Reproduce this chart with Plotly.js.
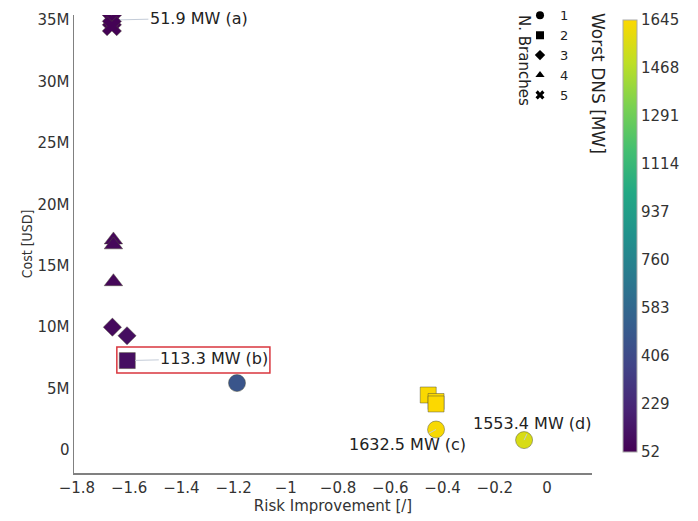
<!DOCTYPE html>
<html>
<head>
<meta charset="utf-8">
<script src="https://cdn.plot.ly/plotly-3.0.1.min.js"></script>
<style>html,body{margin:0;padding:0;background:#fff;}#chart{width:698px;height:521px;}</style>
</head>
<body>
<div id="chart"></div>
<script>
// N. Branches = 1
const risk1 = [-1.187, -0.425, -0.088];
const cost1 = [5.45e6, 1.67e6, 0.81e6];
const dns1  = [470, 1632.5, 1553.4];
// N. Branches = 2
const risk2 = [-1.607, -0.455, -0.425, -0.425];
const cost2 = [7.28e6, 4.48e6, 3.95e6, 3.75e6];
const dns2  = [113.3, 1640, 1645, 1645];
// N. Branches = 3
const risk3 = [-1.664, -1.608];
const cost3 = [10.0e6, 9.3e6];
const dns3  = [90, 110];
// N. Branches = 4
const risk4 = [-1.66, -1.66, -1.66];
const cost4 = [17.1e6, 16.7e6, 13.7e6];
const dns4  = [75, 80, 78];
// N. Branches = 5
const risk5 = [-1.666, -1.666];
const cost5 = [35.0e6, 34.5e6];
const dns5  = [51.9, 55];

const branchLabels = ['1', '2', '3', '4', '5'];
const symbols = ['circle', 'square', 'diamond', 'triangle-up', 'x'];
const cbTicks = [52, 229, 406, 583, 760, 937, 1114, 1291, 1468, 1645];

const labelA = '51.9 MW (a)';
const labelB = '113.3 MW (b)';
const labelC = '1632.5 MW (c)';
const labelD = '1553.4 MW (d)';

const groups = [
  {x: risk1, y: cost1, c: dns1, size: 17},
  {x: risk2, y: cost2, c: dns2, size: 16},
  {x: risk3, y: cost3, c: dns3, size: 14},
  {x: risk4, y: cost4, c: dns4, size: 16},
  {x: risk5, y: cost5, c: dns5, size: 17}
];

const viridisGold = [
  [0.0, '#440154'], [0.1, '#482475'], [0.2, '#414487'], [0.3, '#355f8d'],
  [0.4, '#2a788e'], [0.5, '#21918c'], [0.6, '#22a884'], [0.7, '#44bf70'],
  [0.8, '#7ad151'], [0.9, '#bddf26'], [1.0, '#fcd800']
];

const font = 'DejaVu Sans, Verdana, sans-serif';
const traces = [];
groups.forEach((g, i) => {
  traces.push({
    type: 'scatter', mode: 'markers', x: g.x, y: g.y, showlegend: false,
    marker: {symbol: symbols[i], size: g.size, color: g.c, coloraxis: 'coloraxis',
             line: {width: 0.6, color: 'rgba(80,80,60,0.8)'}},
    hoverinfo: 'x+y'
  });
});
branchLabels.forEach((lab, i) => {
  traces.push({
    type: 'scatter', mode: 'markers', x: [null], y: [null], name: lab, showlegend: true,
    marker: {symbol: symbols[i], size: 8, color: '#000'}
  });
});

const arrowStyle = {showarrow: true, arrowhead: 0, arrowwidth: 1, arrowcolor: '#c4ccd8',
                    font: {family: font, size: 16, color: '#222'}, xref: 'x', yref: 'y'};

const layout = {
  width: 698, height: 521,
  margin: {l: 74, r: 106, t: 15, b: 48, autoexpand: false},
  paper_bgcolor: '#fff', plot_bgcolor: '#fff',
  font: {family: font, size: 15, color: '#333'},
  xaxis: {
    range: [-1.811, 0.172], dtick: 0.2, tick0: 0, showgrid: false, zeroline: false,
    showline: true, linecolor: '#808080', linewidth: 1.5, ticks: '', automargin: false,
    tickfont: {family: font, size: 15, color: '#333'},
    title: {text: 'Risk Improvement [/]', font: {family: font, size: 15, color: '#333'}, standoff: 4}
  },
  yaxis: {
    range: [-1.87e6, 35.41e6], dtick: 5e6, tick0: 0, tickformat: '~s', showgrid: false, zeroline: false,
    showline: true, linecolor: '#808080', linewidth: 1.5, ticks: '', automargin: false,
    tickfont: {family: font, size: 15, color: '#333'},
    title: {text: 'Cost [USD]', font: {family: 'DejaVu Sans Condensed, DejaVu Sans, sans-serif', size: 14, color: '#333'}, standoff: 1}
  },
  coloraxis: {
    cmin: 52, cmax: 1645, colorscale: viridisGold,
    colorbar: {
      x: 1.0405, xanchor: 'left', y: 0.5175, yanchor: 'middle', len: 0.987, lenmode: 'fraction',
      thickness: 14, outlinewidth: 1, outlinecolor: '#aaa', ticks: '',
      tickvals: cbTicks, ticktext: cbTicks.map(String),
      tickfont: {family: font, size: 15, color: '#333'}, title: {text: ''}
    }
  },
  legend: {
    x: 0.861, xanchor: 'left', y: 1.032, yanchor: 'top', itemsizing: 'trace',
    font: {family: font, size: 13, color: '#222'}, bgcolor: 'rgba(0,0,0,0)', tracegroupgap: 0
  },
  shapes: [
    {type: 'rect', xref: 'x', yref: 'y', x0: -1.647, x1: -1.061, y0: 6.27e6, y1: 8.39e6,
     line: {color: '#d9363e', width: 1.5}, fillcolor: 'rgba(0,0,0,0)'}
  ],
  annotations: [
    Object.assign({x: risk5[0], y: cost5[0], text: labelA, ax: 87, ay: -2, standoff: 8}, arrowStyle),
    Object.assign({x: risk2[0], y: cost2[0], text: labelB, ax: 87, ay: -2, standoff: 8}, arrowStyle),
    Object.assign({x: risk1[1], y: cost1[1], text: labelC, ax: -29, ay: 15, standoff: 0}, arrowStyle),
    Object.assign({x: risk1[2], y: cost1[2], text: labelD, ax: 8, ay: -17, standoff: 0}, arrowStyle),
    {text: 'N. Branches', xref: 'paper', yref: 'paper', x: (524 - 74) / 518, y: (473 - 60) / 458,
     xanchor: 'center', yanchor: 'middle',
     textangle: 90, showarrow: false, font: {family: font, size: 15, color: '#222'}},
    {text: 'Worst DNS [MW]', xref: 'paper', yref: 'paper', x: (598 - 74) / 518, y: (473 - 83) / 458,
     xanchor: 'center', yanchor: 'middle',
     textangle: 90, showarrow: false, font: {family: font, size: 17, color: '#222'}}
  ]
};

Plotly.newPlot('chart', traces, layout, {displayModeBar: false, staticPlot: true});
</script>
</body>
</html>
